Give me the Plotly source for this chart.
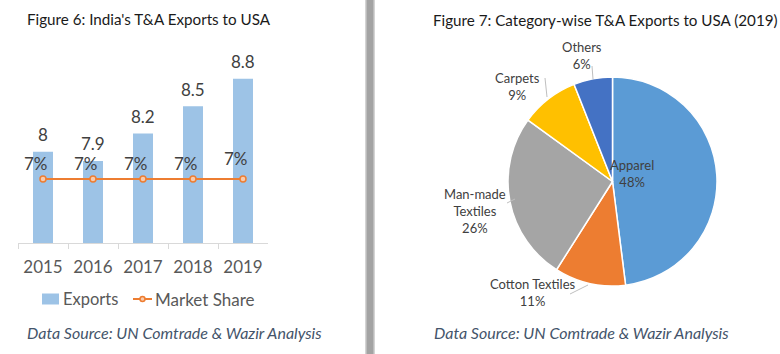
import plotly.graph_objects as go

W, H = 780, 354

# ---- data ----
years = ["2015", "2016", "2017", "2018", "2019"]
exports = [8.0, 7.9, 8.2, 8.5, 8.8]
market_share = [0.07, 0.07, 0.07, 0.07, 0.07]
share_labels = ["7%", "7%", "7%", "7%", "7%"]

categories = ["Apparel", "Cotton Textiles", "Man-made Textiles", "Carpets", "Others"]
cat_share = [48, 11, 26, 9, 6]
cat_label_text = ["Apparel", "Cotton Textiles", "Man-made<br>Textiles", "Carpets", "Others"]

title_left = "Figure 6: India's T&A Exports to USA"
title_right = "Figure 7: Category-wise T&A Exports to USA (2019)"
source_text = "Data Source: UN Comtrade & Wazir Analysis"

FONT = "Lato"
BAR_COLOR = "#9DC3E6"
LINE_COLOR = "#ED7D31"
PIE_COLORS = ["#5B9BD5", "#ED7D31", "#A5A5A5", "#FFC000", "#4472C4"]


def px(x):
    return x / W


def py(y):
    return 1 - y / H


fig = go.Figure()

fig.add_trace(go.Bar(
    x=years, y=exports, marker=dict(color=BAR_COLOR, line=dict(width=0)),
    name="Exports", showlegend=False, hoverinfo="skip"))

fig.add_trace(go.Scatter(
    x=years, y=market_share, yaxis="y2", mode="lines+markers",
    line=dict(color=LINE_COLOR, width=2),
    marker=dict(size=6, color="#F8CBAD", line=dict(color=LINE_COLOR, width=1.5)),
    name="Market Share", showlegend=False, hoverinfo="skip"))

fig.add_trace(go.Pie(
    labels=categories, values=cat_share, sort=False, direction="clockwise",
    rotation=0, marker=dict(colors=PIE_COLORS, line=dict(color="white", width=1.5)),
    textinfo="none", showlegend=False, hoverinfo="skip",
    domain=dict(x=[px(507), px(718)], y=[py(286), py(77)])))

annotations = []
# bar value labels (x given as category index)
for i, v in enumerate(exports):
    annotations.append(dict(x=i, y=v, xref="x", yref="y", text=f"{v:g}",
                            showarrow=False, yshift=17, yanchor="middle",
                            font=dict(family=FONT, size=17, color="#404040")))
# market share labels
for i, (ms, t) in enumerate(zip(market_share, share_labels)):
    annotations.append(dict(x=i, y=ms, xref="x", yref="y2", text=t,
                            showarrow=False, xshift=-7,
                            yshift=21 if i == len(years) - 1 else 16,
                            yanchor="middle",
                            font=dict(family=FONT, size=17, color="#404040")))

# titles and source
annotations.append(dict(x=px(25), y=py(19), xref="paper", yref="paper", text=title_left,
                        showarrow=False, xanchor="left", yanchor="middle",
                        font=dict(family=FONT, size=15.2, color="#1a1a1a")))
annotations.append(dict(x=px(431), y=py(20), xref="paper", yref="paper", text=title_right,
                        showarrow=False, xanchor="left", yanchor="middle",
                        font=dict(family=FONT, size=15.2, color="#1a1a1a")))
for x0 in (25, 432):
    annotations.append(dict(x=px(x0), y=py(332), xref="paper", yref="paper",
                            text=f"<i>{source_text}</i>", showarrow=False,
                            xanchor="left", yanchor="middle",
                            font=dict(family=FONT, size=16, color="#44546A")))

# custom legend
annotations.append(dict(x=px(61), y=py(299), xref="paper", yref="paper", text="Exports",
                        showarrow=False, xanchor="left", yanchor="middle",
                        font=dict(family=FONT, size=16.5, color="#595959")))
annotations.append(dict(x=px(153), y=py(299), xref="paper", yref="paper", text="Market Share",
                        showarrow=False, xanchor="left", yanchor="middle",
                        font=dict(family=FONT, size=17, color="#595959")))

# pie labels
pie_label_pos = [(632, 173), (533, 292), (475, 211), (517, 86), (582, 56)]
for name, val, (lx, ly) in zip(cat_label_text, cat_share, pie_label_pos):
    annotations.append(dict(x=px(lx), y=py(ly), xref="paper", yref="paper",
                            text=f"{name}<br>{val}%", showarrow=False,
                            xanchor="center", yanchor="middle", align="center",
                            font=dict(family=FONT, size=13, color="#404040")))

shapes = [
    # divider
    dict(type="rect", xref="paper", yref="paper", x0=px(365), x1=px(375), y0=0, y1=1,
         fillcolor="#D4D4D4", line=dict(width=0), layer="below"),
    dict(type="rect", xref="paper", yref="paper", x0=px(366.5), x1=px(373.5), y0=0, y1=1,
         fillcolor="#A3A3A3", line=dict(width=0), layer="below"),
    # legend symbols
    dict(type="rect", xref="paper", yref="paper", x0=px(42), x1=px(59), y0=py(304.5), y1=py(293.5),
         fillcolor=BAR_COLOR, line=dict(width=0)),
    dict(type="line", xref="paper", yref="paper", x0=px(133), x1=px(152), y0=py(299), y1=py(299),
         line=dict(color=LINE_COLOR, width=2)),
    dict(type="circle", xref="paper", yref="paper", x0=px(140), x1=px(145), y0=py(301.5), y1=py(296.5),
         fillcolor="#F8CBAD", line=dict(color=LINE_COLOR, width=1.5)),
    # pie leader lines
    dict(type="line", xref="paper", yref="paper", x0=px(592), x1=px(593), y0=py(66), y1=py(79),
         line=dict(color="#BFBFBF", width=1)),
    dict(type="line", xref="paper", yref="paper", x0=px(545), x1=px(547), y0=py(78), y1=py(97),
         line=dict(color="#BFBFBF", width=1)),
    dict(type="line", xref="paper", yref="paper", x0=px(507), x1=px(515), y0=py(203), y1=py(199),
         line=dict(color="#BFBFBF", width=1)),
    dict(type="line", xref="paper", yref="paper", x0=px(570), x1=px(588), y0=py(294), y1=py(285),
         line=dict(color="#BFBFBF", width=1)),
]

fig.update_layout(
    width=W, height=H, margin=dict(l=0, r=0, t=0, b=0),
    paper_bgcolor="white", plot_bgcolor="white",
    bargap=0.6, showlegend=False,
    xaxis=dict(domain=[px(18), px(268)], type="category", range=[-0.5, 4.5],
               autorange=False, showgrid=False,
               showline=True, linecolor="#D9D9D9", linewidth=1,
               ticks="outside", tickson="boundaries", ticklen=5, tickcolor="#D9D9D9",
               ticklabelstandoff=9,
               tickfont=dict(family=FONT, size=17, color="#595959"), fixedrange=True),
    yaxis=dict(domain=[py(243), py(60.5)], range=[7, 9], visible=False, fixedrange=True),
    yaxis2=dict(overlaying="y", range=[0, 0.2], visible=False, fixedrange=True),
    annotations=annotations, shapes=shapes,
)

fig.write_html("out.html")
